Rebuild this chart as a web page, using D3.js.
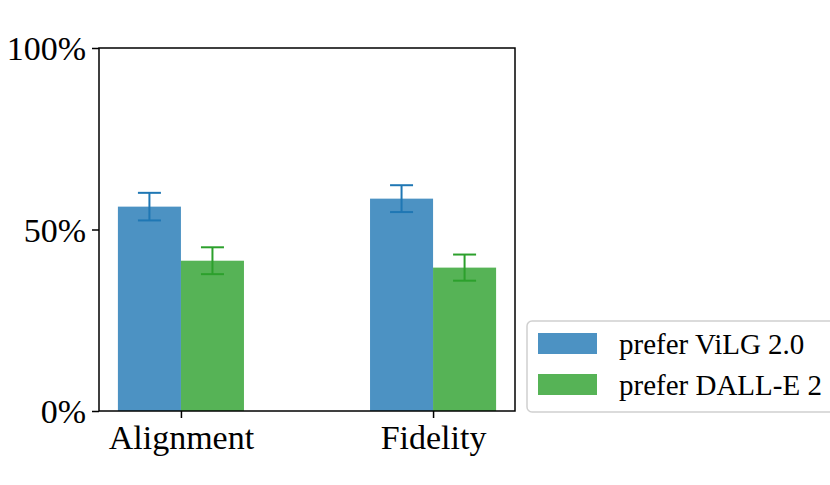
<!DOCTYPE html>
<html>
<head>
<meta charset="utf-8">
<script src="https://cdn.jsdelivr.net/npm/d3@7"></script>
<style>
  body { margin: 0; background: #fff; }
  svg text { font-family: "Liberation Serif", "Times New Roman", serif; fill: #000; }
</style>
</head>
<body>
<div id="chart"></div>
<script>
// data
var categories = ["Alignment", "Fidelity"];
var seriesNames = ["prefer ViLG 2.0", "prefer DALL-E 2"];
var vilgValues = [0.563, 0.585];
var vilgErrors = [0.038, 0.037];
var dalleValues = [0.414, 0.395];
var dalleErrors = [0.037, 0.036];
var yTicks = [0, 0.5, 1];

(function () {
  var width = 830, height = 485;
  var plotL = 99, plotR = 515, plotT = 48, plotB = 411;
  var barW = 0.25;

  var svg = d3.select("#chart").append("svg")
      .attr("width", width)
      .attr("height", height);

  var x = d3.scaleLinear().domain([-0.325, 1.325]).range([plotL, plotR]);
  var y = d3.scaleLinear().domain([0, 1]).range([plotB, plotT]);

  var series = [
    { name: seriesNames[0], values: vilgValues, errors: vilgErrors, offset: -barW, fill: "rgba(31,119,180,0.8)", line: "#1f77b4" },
    { name: seriesNames[1], values: dalleValues, errors: dalleErrors, offset: 0, fill: "rgba(44,160,44,0.8)", line: "#2ca02c" }
  ];

  // bars
  series.forEach(function (s) {
    var g = svg.append("g");
    g.selectAll("rect")
      .data(s.values)
      .enter().append("rect")
      .attr("x", function (d, i) { return x(i + s.offset); })
      .attr("width", function (d, i) { return x(i + s.offset + barW) - x(i + s.offset); })
      .attr("y", function (d) { return y(d); })
      .attr("height", function (d) { return y(0) - y(d); })
      .attr("fill", s.fill);

    // error bars
    var cap = 11.5;
    s.values.forEach(function (v, i) {
      var cx = x(i + s.offset + barW / 2);
      var lo = y(v - s.errors[i]), hi = y(v + s.errors[i]);
      g.append("line").attr("x1", cx).attr("x2", cx).attr("y1", lo).attr("y2", hi)
        .attr("stroke", s.line).attr("stroke-width", 2);
      [lo, hi].forEach(function (yy) {
        g.append("line").attr("x1", cx - cap).attr("x2", cx + cap).attr("y1", yy).attr("y2", yy)
          .attr("stroke", s.line).attr("stroke-width", 2);
      });
    });
  });

  // axes
  var yAxis = d3.axisLeft(y).tickValues(yTicks).tickFormat(d3.format(".0%")).tickSize(7).tickPadding(6);
  var xAxis = d3.axisBottom(x).tickValues([0, 1]).tickFormat(function (d) { return categories[d]; }).tickSize(7).tickPadding(4);

  var ya = svg.append("g").attr("transform", "translate(" + plotL + ",0)").call(yAxis);
  var xa = svg.append("g").attr("transform", "translate(0," + plotB + ")").call(xAxis);
  [ya, xa].forEach(function (a) {
    a.select(".domain").remove();
    a.selectAll(".tick line").attr("stroke", "#000").attr("stroke-width", 1.5);
    a.selectAll(".tick text").attr("font-size", 34).attr("font-family", "Liberation Serif");
  });
  ya.selectAll(".tick text").attr("dy", "0.35em");
  xa.selectAll(".tick text").attr("dy", "0.8em");

  // frame
  svg.append("rect")
    .attr("x", plotL).attr("y", plotT)
    .attr("width", plotR - plotL).attr("height", plotB - plotT)
    .attr("fill", "none").attr("stroke", "#000").attr("stroke-width", 1.5);

  // legend
  var leg = svg.append("g").attr("transform", "translate(527,321)");
  leg.append("rect")
    .attr("x", 0).attr("y", 0).attr("width", 320).attr("height", 91)
    .attr("rx", 5).attr("fill", "#fff").attr("stroke", "#d0d0d0").attr("stroke-width", 1.5);
  var items = leg.selectAll("g.item").data(series).enter().append("g")
    .attr("transform", function (d, i) { return "translate(0," + (i * 41) + ")"; });
  items.append("rect")
    .attr("x", 11).attr("y", 12).attr("width", 59).attr("height", 21)
    .attr("fill", function (d) { return d.fill; });
  items.append("text")
    .attr("x", 92).attr("y", 22.5).attr("dy", "0.35em")
    .attr("font-size", 29)
    .text(function (d) { return d.name; });
})();
</script>
</body>
</html>
